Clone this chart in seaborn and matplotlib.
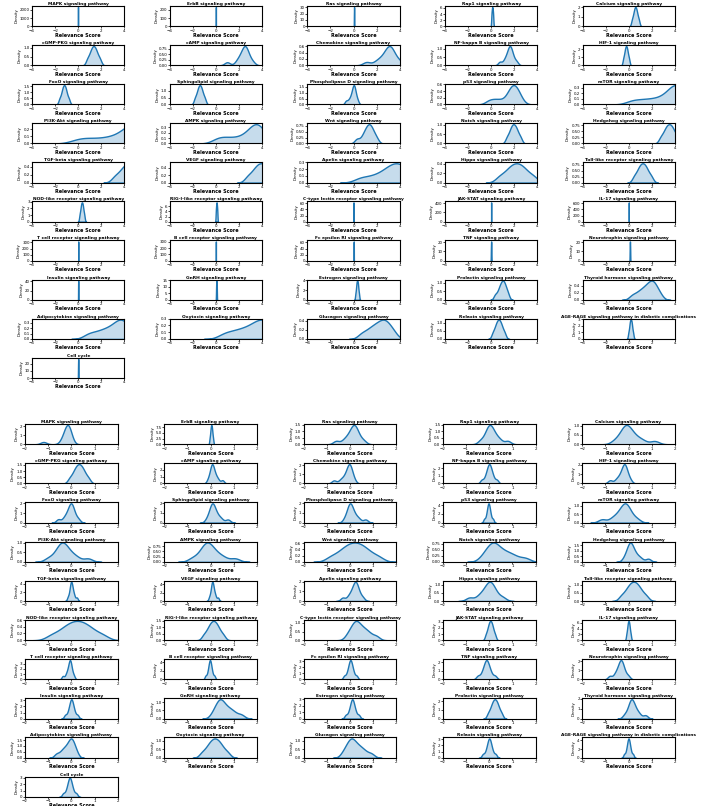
import matplotlib
matplotlib.use("Agg")
import matplotlib.pyplot as plt
from matplotlib.ticker import MaxNLocator
import seaborn as sns

plt.rcParams["font.family"] = ["DejaVu Sans"]

pathways = [
    "MAPK signaling pathway", "ErbB signaling pathway", "Ras signaling pathway",
    "Rap1 signaling pathway", "Calcium signaling pathway",
    "cGMP-PKG signaling pathway", "cAMP signaling pathway", "Chemokine signaling pathway",
    "NF-kappa B signaling pathway", "HIF-1 signaling pathway",
    "FoxO signaling pathway", "Sphingolipid signaling pathway",
    "Phospholipase D signaling pathway", "p53 signaling pathway", "mTOR signaling pathway",
    "PI3K-Akt signaling pathway", "AMPK signaling pathway", "Wnt signaling pathway",
    "Notch signaling pathway", "Hedgehog signaling pathway",
    "TGF-beta signaling pathway", "VEGF signaling pathway", "Apelin signaling pathway",
    "Hippo signaling pathway", "Toll-like receptor signaling pathway",
    "NOD-like receptor signaling pathway", "RIG-I-like receptor signaling pathway",
    "C-type lectin receptor signaling pathway", "JAK-STAT signaling pathway",
    "IL-17 signaling pathway",
    "T cell receptor signaling pathway", "B cell receptor signaling pathway",
    "Fc epsilon RI signaling pathway", "TNF signaling pathway",
    "Neurotrophin signaling pathway",
    "Insulin signaling pathway", "GnRH signaling pathway", "Estrogen signaling pathway",
    "Prolactin signaling pathway", "Thyroid hormone signaling pathway",
    "Adipocytokine signaling pathway", "Oxytocin signaling pathway",
    "Glucagon signaling pathway", "Relaxin signaling pathway",
    "AGE-RAGE signaling pathway in diabetic complications",
    "Cell cycle",
]

# ---- upper panel: relevance scores (x range -4..4) ----
a_mapk = [-0.00019, -0.00008, 0.0, 0.00008, 0.00019]
a_erbb = [-0.0019, -0.0008, 0.0, 0.0008, 0.0019]
a_ras = [0.035, 0.044, 0.05, 0.056, 0.065]
a_rap1 = [0.03, 0.07, 0.10, 0.13, 0.17]
a_calcium = [0.27, 0.38, 0.45, 0.50, 0.55, 0.59, 0.64, 0.69, 0.76, 0.87]
a_cgmp = [0.78, 0.98, 1.11, 1.20, 1.29, 1.37, 1.46, 1.55, 1.68, 1.88]
a_camp = [0.98, 1.82, 2.06, 2.22, 2.34, 2.44, 2.5, 2.56, 2.63, 2.72, 2.86, 3.16]
a_chemokine = [1.13, 1.98, 2.37, 2.64, 2.83, 2.98, 3.08, 3.16, 3.26, 3.39, 3.59, 4.01]
a_nfkb = [0.75, 1.12, 1.30, 1.41, 1.51, 1.57, 1.62, 1.67, 1.73, 1.82, 1.94, 2.19]
a_hif1 = [-0.48, -0.39, -0.33, -0.29, -0.25, -0.21, -0.17, -0.13, -0.07, 0.02]
a_foxo = [-1.62, -1.46, -1.37, -1.31, -1.25, -1.19, -1.13, -1.07, -0.98, -0.82]
a_sphingo = [-1.82, -1.66, -1.56, -1.49, -1.42, -1.36, -1.29, -1.22, -1.12, -0.96]
a_pld = [-0.65, -0.42, -0.26, -0.165, -0.09, -0.035, 0.01, 0.04, 0.075, 0.125, 0.195, 0.34]
a_p53 = [-0.19, 0.30, 0.79, 1.35, 1.58, 1.73, 1.84, 1.95, 2.06, 2.17, 2.32, 2.55]
a_mtor = [0.3, 1.2, 2.0, 2.7, 3.25, 3.6, 3.85, 4.0, 4.15, 4.3, 4.5, 4.85]
a_pi3k = [0.0, 1.0, 2.1, 3.0, 3.7, 4.2, 4.5, 4.7, 4.9, 5.1, 5.35, 5.8]
a_ampk = [0.1, 0.7, 1.4, 2.1, 2.65, 3.0, 3.25, 3.42, 3.58, 3.74, 3.92, 4.25]
a_wnt = [0.3, 0.75, 0.98, 1.12, 1.24, 1.35, 1.46, 1.57, 1.72, 1.98]
a_notch = [1.36, 1.58, 1.71, 1.81, 1.90, 1.99, 2.09, 2.19, 2.32, 2.54]
a_hedgehog = [2.76, 3.03, 3.2, 3.32, 3.44, 3.56, 3.68, 3.8, 3.97, 4.24]
a_tgfb = [3.17, 3.62, 3.9, 4.11, 4.30, 4.50, 4.69, 4.90, 5.18, 5.63]
a_vegf = [2.75, 3.17, 3.43, 3.63, 3.81, 3.99, 4.17, 4.37, 4.63, 5.05]
a_apelin = [0.6, 1.5, 2.2, 2.7, 3.05, 3.35, 3.6, 3.85, 4.1, 4.4, 4.8, 5.4]
a_hippo = [0.72, 1.26, 1.6, 1.85, 2.08, 2.32, 2.55, 2.8, 3.14, 3.68]
a_toll = [0.46, 0.73, 0.9, 1.02, 1.14, 1.26, 1.38, 1.5, 1.67, 1.94]
a_nod = [0.12, 0.19, 0.24, 0.27, 0.30, 0.34, 0.37, 0.40, 0.45, 0.52]
a_rig = [0.0, 0.035, 0.06, 0.085, 0.12]
a_ctype = [-0.007, -0.003, 0.0, 0.003, 0.007]
a_jak = [-0.0011, -0.00045, 0.0, 0.00045, 0.0011]
a_il17 = [-0.0007, -0.0003, 0.0, 0.0003, 0.0007]
a_tcell = [-0.0014, -0.0006, 0.0, 0.0006, 0.0014]
a_bcell = [-0.0015, -0.0006, 0.0, 0.0006, 0.0015]
a_fceri = [0.013, 0.017, 0.02, 0.023, 0.027]
a_tnf = [-0.022, -0.009, 0.0, 0.009, 0.022]
a_neuro = [0.078, 0.091, 0.1, 0.109, 0.122]
a_insulin = [-0.011, -0.0045, 0.0, 0.0045, 0.011]
a_gnrh = [0.02, 0.037, 0.05, 0.063, 0.08]
a_estrogen = [0.17, 0.23, 0.26, 0.28, 0.31, 0.33, 0.36, 0.38, 0.41, 0.47]
a_prolactin = [0.35, 0.6, 0.74, 0.84, 0.93, 1.01, 1.09, 1.17, 1.28, 1.45]
a_thyroid = [0.3, 0.75, 1.05, 1.3, 1.5, 1.68, 1.84, 1.98, 2.1, 2.23, 2.4, 2.7]
a_adipo = [0.85, 1.5, 2.05, 2.45, 2.85, 3.15, 3.4, 3.6, 3.8, 3.98, 4.2, 4.6]
a_oxytocin = [0.7, 1.45, 2.05, 2.55, 3.0, 3.35, 3.65, 3.9, 4.15, 4.4, 4.7, 5.2]
a_glucagon = [0.68, 1.17, 1.51, 1.78, 2.02, 2.23, 2.43, 2.61, 2.77, 2.96, 3.18, 3.53]
a_relaxin = [0.14, 0.33, 0.44, 0.53, 0.61, 0.69, 0.77, 0.86, 0.97, 1.16]
a_agerage = [-0.03, 0.05, 0.09, 0.12, 0.15, 0.19, 0.22, 0.25, 0.29, 0.37]
a_cellcycle = [-0.017, -0.007, 0.0, 0.007, 0.017]

# ---- lower panel: relevance scores (x range -2..2) ----
b_mapk = [-1.2, -0.41, -0.313, -0.26, -0.221, -0.187, -0.162, -0.139, -0.117, -0.094, -0.072, -0.024]
b_erbb = [-0.045, -0.02, -0.005, 0.006, 0.016, 0.025, 0.035, 0.044, 0.054, 0.065, 0.08, 0.105]
b_ras = [-0.596, -0.269, -0.113, -0.013, 0.063, 0.124, 0.165, 0.2, 0.243, 0.301, 0.389, 0.577]
b_rap1 = [-0.377, -0.189, -0.101, -0.043, 0.0, 0.035, 0.076, 0.137, 0.213, 0.313, 0.469, 0.796]
b_calcium = [-0.583, -0.349, -0.238, -0.166, -0.112, -0.069, -0.009, 0.086, 0.205, 0.364, 0.608, 1.123]
b_cgmp = [-0.077, 0.06, 0.14, 0.201, 0.255, 0.306, 0.354, 0.405, 0.46, 0.521, 0.601, 0.737]
b_camp = [-0.112, -0.028, 0.012, 0.038, 0.058, 0.073, 0.095, 0.13, 0.173, 0.231, 0.319, 0.507]
b_chemokine = [-0.69, -0.409, -0.276, -0.189, -0.124, -0.072, -0.042, -0.025, -0.004, 0.026, 0.07, 0.163]
b_nfkb = [-0.324, -0.181, -0.114, -0.071, -0.038, -0.011, 0.011, 0.038, 0.071, 0.114, 0.181, 0.324]
b_hif1 = [-0.797, -0.535, -0.411, -0.33, -0.27, -0.221, -0.191, -0.17, -0.144, -0.11, -0.056, 0.056]
b_foxo = [-0.563, -0.329, -0.218, -0.146, -0.092, -0.049, -0.019, 0.007, 0.04, 0.083, 0.15, 0.29]
b_sphingo = [-0.156, -0.044, 0.01, 0.044, 0.07, 0.091, 0.122, 0.174, 0.239, 0.326, 0.459, 0.74]
b_pld = [-0.226, -0.114, -0.06, -0.026, 0.0, 0.021, 0.052, 0.104, 0.169, 0.256, 0.389, 0.67]
b_p53 = [-0.218, -0.135, -0.096, -0.071, -0.052, -0.037, -0.023, -0.008, 0.011, 0.036, 0.075, 0.158]
b_mtor = [-1.14, -0.718, -0.519, -0.389, -0.292, -0.214, -0.161, -0.118, -0.064, 0.008, 0.119, 0.353]
b_pi3k = [-0.99, -0.709, -0.576, -0.489, -0.424, -0.372, -0.313, -0.226, -0.119, 0.027, 0.248, 0.716]
b_ampk = [-0.782, -0.482, -0.341, -0.249, -0.179, -0.124, -0.058, 0.039, 0.159, 0.322, 0.57, 1.05]
b_wnt = [-0.825, -0.482, -0.279, -0.126, 0.01, 0.141, 0.259, 0.39, 0.526, 0.679, 0.882, 1.225]
b_notch = [-0.271, -0.08, 0.033, 0.119, 0.194, 0.267, 0.372, 0.53, 0.696, 0.883, 1.128, 1.546]
b_hedgehog = [-0.177, -0.056, 0.002, 0.04, 0.068, 0.091, 0.126, 0.187, 0.263, 0.363, 0.519, 0.846]
b_tgfb = [-0.15, -0.083, -0.052, -0.033, -0.017, -0.005, 0.009, 0.028, 0.051, 0.083, 0.132, 0.235]
b_vegf = [-0.058, 0.003, 0.031, 0.05, 0.064, 0.075, 0.089, 0.108, 0.131, 0.163, 0.212, 0.315]
b_apelin = [-0.313, -0.079, 0.032, 0.104, 0.158, 0.201, 0.231, 0.257, 0.29, 0.333, 0.4, 0.54]
b_hippo = [-0.853, -0.478, -0.301, -0.186, -0.099, -0.03, 0.02, 0.067, 0.126, 0.203, 0.323, 0.576]
b_toll = [-0.317, -0.137, -0.031, 0.05, 0.12, 0.189, 0.251, 0.32, 0.391, 0.471, 0.577, 0.757]
b_nod = [-0.855, -0.485, -0.268, -0.102, 0.045, 0.186, 0.314, 0.455, 0.602, 0.768, 0.985, 1.355]
b_rig = [-0.303, -0.161, -0.078, -0.014, 0.042, 0.096, 0.144, 0.198, 0.254, 0.318, 0.401, 0.543]
b_ctype = [-0.105, 0.047, 0.137, 0.205, 0.265, 0.324, 0.395, 0.495, 0.598, 0.716, 0.869, 1.13]
b_jak = [-0.152, -0.084, -0.044, -0.014, 0.012, 0.039, 0.061, 0.088, 0.114, 0.144, 0.184, 0.252]
b_il17 = [-0.094, -0.063, -0.044, -0.03, -0.018, -0.006, 0.006, 0.018, 0.03, 0.044, 0.063, 0.094]
b_tcell = [-0.368, -0.238, -0.176, -0.135, -0.104, -0.08, -0.064, -0.05, -0.033, -0.01, 0.025, 0.1]
b_bcell = [-0.218, -0.135, -0.096, -0.071, -0.052, -0.037, -0.023, -0.008, 0.011, 0.036, 0.075, 0.158]
b_fceri = [-0.243, -0.127, -0.073, -0.037, -0.011, 0.011, 0.029, 0.051, 0.077, 0.113, 0.167, 0.283]
b_tnf = [-0.487, -0.326, -0.25, -0.2, -0.163, -0.133, -0.107, -0.077, -0.04, 0.01, 0.086, 0.247]
b_neuro = [-0.81, -0.603, -0.506, -0.442, -0.394, -0.356, -0.329, -0.303, -0.27, -0.227, -0.161, -0.02]
b_insulin = [-0.263, -0.147, -0.093, -0.057, -0.031, -0.009, 0.009, 0.031, 0.057, 0.093, 0.147, 0.263]
b_gnrh = [0.094, 0.23, 0.31, 0.371, 0.425, 0.476, 0.547, 0.65, 0.759, 0.881, 1.041, 1.313]
b_estrogen = [-0.178, -0.056, 0.002, 0.04, 0.068, 0.09, 0.11, 0.132, 0.16, 0.198, 0.256, 0.378]
b_prolactin = [-0.048, 0.048, 0.106, 0.149, 0.186, 0.223, 0.257, 0.294, 0.331, 0.374, 0.432, 0.528]
b_thyroid = [-0.17, -0.03, 0.037, 0.08, 0.113, 0.139, 0.17, 0.217, 0.276, 0.353, 0.473, 0.726]
b_adipo = [-0.64, -0.449, -0.337, -0.251, -0.175, -0.103, -0.053, -0.015, 0.023, 0.067, 0.125, 0.222]
b_oxytocin = [-0.373, -0.188, -0.079, 0.004, 0.078, 0.148, 0.212, 0.282, 0.356, 0.439, 0.548, 0.733]
b_glucagon = [-0.289, -0.142, -0.056, 0.011, 0.069, 0.125, 0.194, 0.291, 0.393, 0.508, 0.659, 0.914]
b_relaxin = [-0.27, -0.152, -0.095, -0.059, -0.031, -0.009, 0.009, 0.031, 0.059, 0.095, 0.152, 0.27]
b_agerage = [-0.188, -0.105, -0.066, -0.041, -0.022, -0.007, 0.007, 0.022, 0.041, 0.066, 0.105, 0.188]
b_cellcycle = [-0.348, -0.226, -0.168, -0.13, -0.102, -0.08, -0.06, -0.038, -0.01, 0.028, 0.086, 0.208]

upper = [a_mapk, a_erbb, a_ras, a_rap1, a_calcium, a_cgmp, a_camp, a_chemokine,
         a_nfkb, a_hif1, a_foxo, a_sphingo, a_pld, a_p53, a_mtor, a_pi3k, a_ampk,
         a_wnt, a_notch, a_hedgehog, a_tgfb, a_vegf, a_apelin, a_hippo, a_toll,
         a_nod, a_rig, a_ctype, a_jak, a_il17, a_tcell, a_bcell, a_fceri, a_tnf,
         a_neuro, a_insulin, a_gnrh, a_estrogen, a_prolactin, a_thyroid, a_adipo,
         a_oxytocin, a_glucagon, a_relaxin, a_agerage, a_cellcycle]
lower = [b_mapk, b_erbb, b_ras, b_rap1, b_calcium, b_cgmp, b_camp, b_chemokine,
         b_nfkb, b_hif1, b_foxo, b_sphingo, b_pld, b_p53, b_mtor, b_pi3k, b_ampk,
         b_wnt, b_notch, b_hedgehog, b_tgfb, b_vegf, b_apelin, b_hippo, b_toll,
         b_nod, b_rig, b_ctype, b_jak, b_il17, b_tcell, b_bcell, b_fceri, b_tnf,
         b_neuro, b_insulin, b_gnrh, b_estrogen, b_prolactin, b_thyroid, b_adipo,
         b_oxytocin, b_glucagon, b_relaxin, b_agerage, b_cellcycle]


def draw_panel(fig, gs, groups, xlim, xticks):
    for i, (name, scores) in enumerate(zip(pathways, groups)):
        ax = fig.add_subplot(gs[i // 5, i % 5])
        sns.kdeplot(x=scores, fill=True, bw_adjust=0.7, linewidth=1.0, ax=ax)
        ax.set_xlim(*xlim)
        ax.set_xticks(xticks)
        ax.yaxis.set_major_locator(MaxNLocator(nbins=4, steps=[1, 2, 2.5, 5, 10]))
        ax.set_title(name, fontsize=3.2, fontweight="bold", pad=0.5)
        ax.set_xlabel("Relevance Score", fontsize=3.5, fontweight="bold", labelpad=0)
        ax.set_ylabel("Density", fontsize=2.8, labelpad=1)
        ax.tick_params(labelsize=2.9, length=1.2, width=0.5, pad=0.5)
        for sp in ax.spines.values():
            sp.set_linewidth(0.8)


fig = plt.figure(figsize=(7.12, 8.06), dpi=100)
gs_top = fig.add_gridspec(10, 5, left=0.045, right=0.948, top=0.9926, bottom=0.531,
                          wspace=0.49, hspace=0.93)
gs_bot = fig.add_gridspec(10, 5, left=0.035, right=0.948, top=0.474, bottom=0.0112,
                          wspace=0.5, hspace=0.93)

draw_panel(fig, gs_top, upper, (-4, 4), [-4, -2, 0, 2, 4])
draw_panel(fig, gs_bot, lower, (-2, 2), [-2, -1, 0, 1, 2])

fig.savefig("out.png", dpi=100)
